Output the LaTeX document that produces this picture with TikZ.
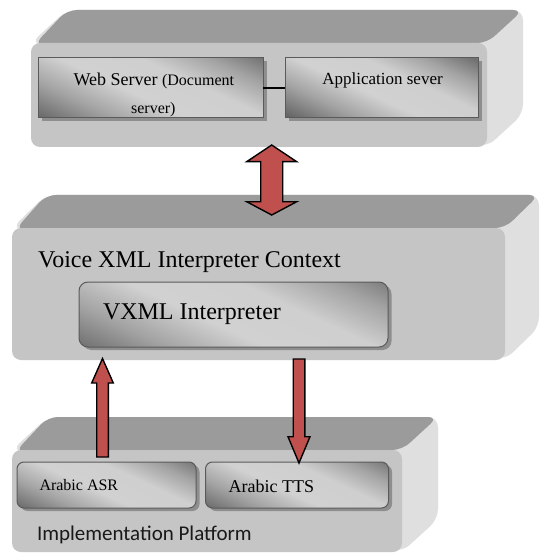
\documentclass[tikz,border=0pt]{standalone}
\usepackage{fontspec}
\setmainfont{Liberation Serif}
\newfontfamily\platformfont{Carlito}
\usetikzlibrary{shadows,calc}

\definecolor{slabtop}{HTML}{9B9B9B}
\definecolor{slabfront}{HTML}{C5C5C5}
\definecolor{slabside}{HTML}{DFDFDF}
\definecolor{boxedge}{HTML}{5A5A5A}
\definecolor{boxshadow}{HTML}{8E8E8E}
\definecolor{arrowred}{HTML}{C0504D}

% glossy grey fill of the inner component boxes (visible range 25bp..75bp)
\pgfdeclareverticalshading{glossbox}{100bp}{%
  color(0bp)=(black!60); color(25bp)=(black!60); color(34bp)=(black!60);
  color(41bp)=(black!36); color(47.5bp)=(black!18); color(55bp)=(black!19);
  color(61bp)=(black!36); color(66bp)=(black!55); color(75bp)=(black!60);
  color(100bp)=(black!60)}

% extruded slab: front face (#1,#2)-(#3,#4), depth (#5,#6)
\newcommand\slab[6]{%
  \fill[slabside, rounded corners=10]
    (#1,#2) -- (#1+#5,#2-#6) -- (#3+#5,#2-#6) -- (#3+#5,#4-#6) -- (#3,#4) -- cycle;
  \fill[slabtop, rounded corners=10]
    (#1+3,#2+2) -- (#1+#5,#2-#6) -- (#3+#5,#2-#6) -- (#3,#2) -- cycle;
  \fill[slabfront, rounded corners=9] (#1,#2) rectangle (#3,#4);
}

% vertical block arrow from base #1 to tip #2; shaft half width #3,
% head half width #4, head length #5 (signed, towards the base)
\newcommand\blockarrow[5]{%
  \draw[blockarrow] ($(#1)+(-#3,0)$) -- ($(#2)+(-#3,#5)$) -- ($(#2)+(-#4,#5)$)
    -- (#2) -- ($(#2)+(#4,#5)$) -- ($(#2)+(#3,#5)$) -- ($(#1)+(#3,0)$) -- cycle;
}

\begin{document}
\begin{tikzpicture}[x=1pt,y=-1pt,
  % #1: half diagonal of the box, so the diagonal gloss ends at its corners
  innerbox/.style={draw=boxedge, line width=1pt,
    drop shadow={shadow xshift=3.5pt, shadow yshift=-3pt, fill=boxshadow, opacity=1},
    path picture={
      \begin{scope}[transform canvas={rotate around={-25:(path picture bounding box.center)}}]
        \shade[shading=glossbox]
          ($(path picture bounding box.center)+(-#1,-#1)$) rectangle
          ($(path picture bounding box.center)+(#1,#1)$);
      \end{scope}},
    inner sep=0pt, outer sep=0pt},
  blockarrow/.style={fill=arrowred, draw=black, line width=1.4pt, line join=miter},
  lbl/.style={inner sep=0pt, outer sep=0pt, text=black}]

\useasboundingbox (0,0) rectangle (539,553);
\fill[white] (0,0) rectangle (539,553);

% the three tiers
\slab{31}{43}{487}{147}{36}{33}
\slab{12}{228}{505}{360}{34}{33}
\slab{12}{450}{402}{552}{36}{33}

% document server tier
\node[innerbox=117, minimum width=225, minimum height=60] (ws) at (150.5,88) {};
\node[innerbox=101, minimum width=193, minimum height=60] (as) at (381.5,88) {};
\draw[line width=1.2pt] (ws.east) -- (as.west);
\node[lbl, anchor=base] (wst1) at (153.8,86)
  {\fontsize{18}{20}\selectfont Web Server \fontsize{16}{20}\selectfont(Document};
\node[lbl, anchor=base] (wst2) at (153.3,114) {\fontsize{16}{20}\selectfont server)};
\node[lbl, anchor=base] (ast) at (382.5,85) {\fontsize{17}{20}\selectfont Application sever};

% interpreter context tier
\node[lbl, anchor=base west] (ctx) at (38,267)
  {\fontsize{24}{28}\selectfont Voice XML Interpreter Context};
\node[innerbox=158, rounded corners=9, minimum width=309, minimum height=65] (vx) at (233.5,314.5) {};
\node[lbl, anchor=base west] (vxt) at (103,319) {\fontsize{24}{28}\selectfont VXML Interpreter};

% implementation platform tier
\node[innerbox=93, rounded corners=7, minimum width=179, minimum height=46] (asr) at (106.5,485) {};
\node[innerbox=95, rounded corners=7, minimum width=183, minimum height=46] (tts) at (297,485) {};
\node[lbl, anchor=base west] (asrt) at (39.5,490) {\fontsize{16}{20}\selectfont Arabic ASR};
\node[lbl, anchor=base west] (ttst) at (228.6,492) {\fontsize{18}{20}\selectfont Arabic TTS};
\node[lbl, anchor=base west, text=black!90] (plat) at (37,540)
  {\platformfont\fontsize{21}{24}\selectfont Implementation Platform};

% block arrows between the tiers
\coordinate (dtop) at (271.7,145);
\coordinate (dbot) at (271.7,215);
\draw[blockarrow] (dtop) -- ($(dtop)+(25,16.7)$) -- ($(dtop)+(11,16.7)$)
  -- ($(dbot)+(11,-13.3)$) -- ($(dbot)+(25,-13.3)$) -- (dbot)
  -- ($(dbot)+(-25,-13.3)$) -- ($(dbot)+(-11,-13.3)$)
  -- ($(dtop)+(-11,16.7)$) -- ($(dtop)+(-25,16.7)$) -- cycle;

\coordinate (asrbase) at (102.5,457);
\coordinate (asrtip) at (102.5,358.5);
\blockarrow{asrbase}{asrtip}{5.8}{10.8}{24.5}

\coordinate (ttsbase) at (299,359);
\coordinate (ttstip) at (299,463);
\blockarrow{ttsbase}{ttstip}{5.8}{11}{-26.3}

\end{tikzpicture}
\end{document}
